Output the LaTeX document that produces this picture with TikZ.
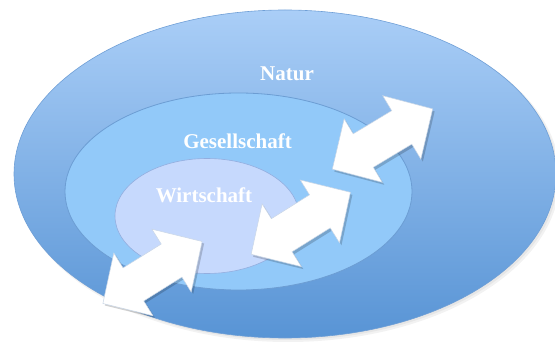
\documentclass[tikz,border=0pt]{standalone}
\usepackage{fontspec}
\setmainfont{Liberation Serif}
\usetikzlibrary{shapes.geometric}
\definecolor{outertop}{HTML}{AACEF7}
\definecolor{outerbot}{HTML}{5894D5}
\definecolor{outeredge}{HTML}{6F9FD6}
\definecolor{midfill}{HTML}{92C9F9}
\definecolor{midedge}{HTML}{6C9DD3}
\definecolor{innerfill}{HTML}{C6D9FD}
\definecolor{inneredge}{HTML}{93AEDF}
\definecolor{arrowedge}{HTML}{C9D6E6}
\tikzset{
  arrowshape/.pic={\path[pic actions] (-58.5,0) -- (-22.5,37) -- (-22.5,19.5) -- (22.5,19.5) -- (22.5,37) -- (58.5,0) -- (22.5,-37) -- (22.5,-19.5) -- (-22.5,-19.5) -- (-22.5,-37) -- cycle;}
}
\begin{document}
\begin{tikzpicture}[x=1pt,y=-1pt,
  zone/.style={ellipse, inner sep=0pt},
  lbl/.style={text=white, anchor=base, font=\bfseries\fontsize{21}{24}\selectfont},
  arrowshade/.style={fill=black, opacity=0.18},
  arrowbody/.style={fill=white, draw=arrowedge, line width=0.5pt, line join=miter}]
\useasboundingbox (0,0) rectangle (555,342);
% soft shadow of the outer ellipse
\fill[black, opacity=0.05] (288,177) ellipse [x radius=272pt, y radius=165pt];
\fill[black, opacity=0.05] (287,176) ellipse [x radius=271pt, y radius=164pt];
\node[zone, minimum width=542pt, minimum height=328pt, top color=outertop, bottom color=outerbot, draw=outeredge, line width=0.6pt] (natur) at (285,174) {};
\node[zone, minimum width=347pt, minimum height=197pt, fill=midfill, draw=midedge, line width=0.8pt] (gesellschaft) at (238.5,191.5) {};
\node[zone, minimum width=184pt, minimum height=115pt, fill=innerfill, draw=inneredge, line width=0.6pt] (wirtschaft) at (207,216) {};
\node[lbl] (tnatur) at (287,81) {Natur};
\node[lbl] (tges) at (237.5,148.5) {Gesellschaft};
\node[lbl] (twirt) at (204,202.3) {Wirtschaft};
% arrows
\pic[arrowshade, rotate=32] at (154.5,274.5) {arrowshape};
\pic[arrowbody, rotate=32] (arrowa) at (152.5,272.5) {arrowshape};
\pic[arrowshade, rotate=32] at (302.8,225.8) {arrowshape};
\pic[arrowbody, rotate=32] (arrowb) at (300.8,223.3) {arrowshape};
\pic[arrowshade, rotate=31] at (384.5,141.5) {arrowshape};
\pic[arrowbody, rotate=31] (arrowc) at (382.5,139) {arrowshape};
\end{tikzpicture}
\end{document}
